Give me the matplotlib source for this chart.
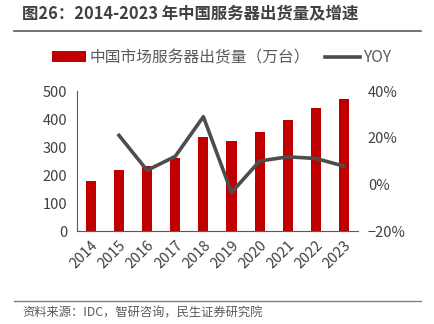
import matplotlib
matplotlib.use('Agg')
import matplotlib.pyplot as plt
from matplotlib.ticker import PercentFormatter

plt.rcParams['font.family'] = ['Noto Sans CJK SC', 'DejaVu Sans']

# 数据
years = ['2014', '2015', '2016', '2017', '2018', '2019', '2020', '2021', '2022', '2023']
shipments = [180, 219, 231, 260, 335, 323, 354, 396, 439, 473]
yoy_years = years[1:]
yoy = [21.0, 6.0, 12.0, 29.0, -3.5, 10.0, 11.8, 11.1, 7.8]

bar_color = '#C00000'
line_color = '#4D4D4D'
text_color = '#404040'

fig = plt.figure(figsize=(4.34, 3.24), dpi=100)
ax = fig.add_axes([0.177, 0.287, 0.648, 0.432])

x = list(range(len(years)))
bars = ax.bar(x, shipments, width=0.36, color=bar_color, zorder=2)
ax.set_xlim(-0.5, len(years) - 0.5)
ax.set_ylim(0, 500)
ax.set_yticks([0, 100, 200, 300, 400, 500])
ax.set_xticks(x)
ax.set_xticklabels(years, rotation=45, ha='right', rotation_mode='anchor')
ax.tick_params(length=0, labelsize=10.5, colors=text_color, pad=7)
ax.tick_params(axis='x', pad=5)
for s in ['top', 'right']:
    ax.spines[s].set_visible(False)
ax.spines['left'].set_color('#595959')
ax.spines['bottom'].set_color('#595959')

ax2 = ax.twinx()
line, = ax2.plot([years.index(y) for y in yoy_years], yoy, color=line_color, lw=2.6, zorder=3)
ax2.set_ylim(-20, 40)
ax2.set_yticks([-20, 0, 20, 40])
ax2.yaxis.set_major_formatter(PercentFormatter(decimals=0))
ax2.tick_params(length=0, labelsize=10.5, colors=text_color, pad=7)
for s in ['top', 'right', 'left', 'bottom']:
    ax2.spines[s].set_visible(False)

fig.legend([bars, line], ['中国市场服务器出货量（万台）', 'YOY'], loc='center', bbox_to_anchor=(0.51, 0.822),
           ncol=2, frameon=False, fontsize=11.3, labelcolor='#595959', handlelength=2.2,
           handletextpad=0.2, columnspacing=1.0)

# 标题和来源
fig.text(0.05, 0.958, '图26：2014-2023 年中国服务器出货量及增速', fontsize=11.8, fontweight='bold',
         color=text_color, va='center', ha='left')
fig.add_artist(plt.Line2D([0.032, 0.97], [0.904, 0.904], color='#595959', lw=1.2))
fig.add_artist(plt.Line2D([0.032, 0.97], [0.071, 0.071], color='#808080', lw=1.0))
fig.text(0.052, 0.035, '资料来源：IDC，智研咨询，民生证券研究院', fontsize=8.8, color='#595959', va='center', ha='left')

fig.savefig('out.png', dpi=100)
